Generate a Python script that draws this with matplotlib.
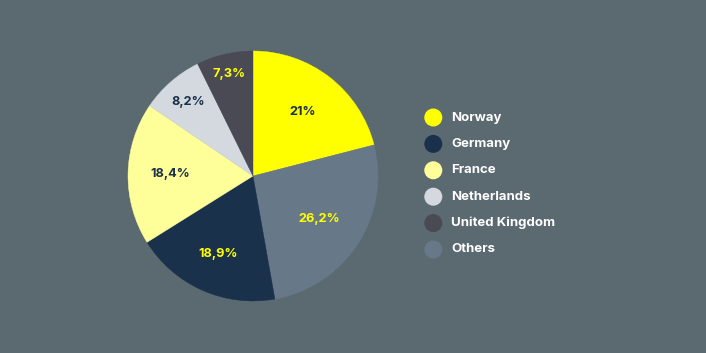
import matplotlib
matplotlib.use("Agg")
import matplotlib.pyplot as plt
import numpy as np

# Data (clockwise order from 12 o'clock)
categories = ["Norway", "Others", "Germany", "France", "Netherlands", "United Kingdom"]
values = [21.0, 26.2, 18.9, 18.4, 8.2, 7.3]
labels = ["21%", "26,2%", "18,9%", "18,4%", "8,2%", "7,3%"]
legend_order = ["Norway", "Germany", "France", "Netherlands", "United Kingdom", "Others"]

colors = {
    "Norway": "#ffff00",
    "Others": "#677888",
    "Germany": "#1a314b",
    "France": "#ffff99",
    "Netherlands": "#d4d9df",
    "United Kingdom": "#4a4a55",
}
label_colors = {
    "Norway": "#1a314b",
    "Others": "#ffff00",
    "Germany": "#ffff00",
    "France": "#1a314b",
    "Netherlands": "#1a314b",
    "United Kingdom": "#ffff00",
}
label_dist = [0.65, 0.63, 0.68, 0.66, 0.79, 0.84]
FONT = "Inter"
bg = "#5b6970"
W, H = 706, 353
fig = plt.figure(figsize=(W / 100, H / 100), dpi=100, facecolor=bg)

cx, cy, r = 253, 176, 125
ax = fig.add_axes([(cx - r) / W, (H - cy - r) / H, 2 * r / W, 2 * r / H])
ax.set_facecolor(bg)
wedges, texts = ax.pie(
    values,
    colors=[colors[c] for c in categories],
    startangle=90,
    counterclock=False,
    labels=labels,
    labeldistance=0.65,
    radius=1,
    wedgeprops=dict(linewidth=0),
    textprops=dict(fontfamily=FONT, fontweight="bold", fontsize=9.2, ha="center", va="center"),
)
for w, t, c, d in zip(wedges, texts, categories, label_dist):
    w.set_edgecolor(w.get_facecolor())
    w.set_linewidth(0.3)
    ang = np.deg2rad((w.theta1 + w.theta2) / 2)
    t.set_position((d * np.cos(ang), d * np.sin(ang)))
    t.set_color(label_colors[c])
    t.set_ha("center")
    t.set_va("center")
ax.set_xlim(-1, 1)
ax.set_ylim(-1, 1)
ax.set_aspect("equal")
ax.axis("off")

# Legend drawn in pixel coordinates
lax = fig.add_axes([0, 0, 1, 1])
lax.set_xlim(0, W)
lax.set_ylim(H, 0)
lax.axis("off")
lax.patch.set_alpha(0)
y0, dy = 117.5, 26.4
for i, name in enumerate(legend_order):
    y = y0 + i * dy
    lax.add_patch(plt.Circle((433.3, y), 9, color=colors[name], lw=0))
    lax.text(451, y, name, color="white", fontfamily=FONT, fontweight="bold",
             fontsize=9.5, va="center", ha="left")

fig.savefig("out.png", dpi=100, facecolor=bg)
